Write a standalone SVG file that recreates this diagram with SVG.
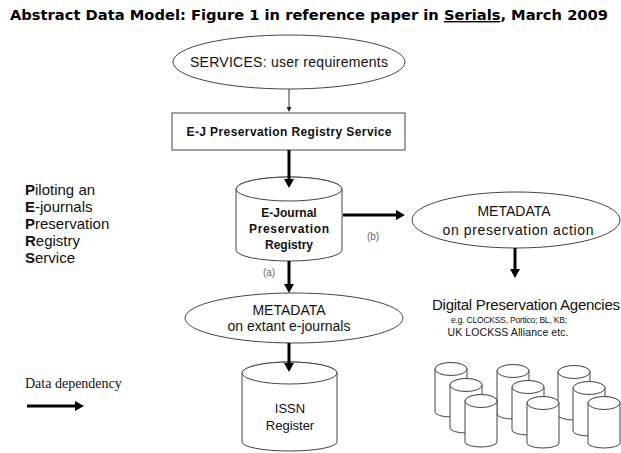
<svg xmlns="http://www.w3.org/2000/svg" width="621" height="453" viewBox="0 0 621 453">
<defs>
<style>
.sans{font-family:"Liberation Sans",Arial,sans-serif;fill:#111}
.b{font-weight:bold}
.shape{fill:#fff;stroke:#444;stroke-width:1}
.thick{stroke:#000;stroke-width:3;fill:none}
.thin{stroke:#333;stroke-width:1;fill:none}
.lbl{font-family:"Liberation Sans",Arial,sans-serif;font-size:10px;fill:#666}
</style>
<marker id="ah" viewBox="0 -5 9 10" refX="0" refY="0" markerWidth="9" markerHeight="10" markerUnits="userSpaceOnUse" orient="auto">
<path d="M0,-5 L9,0 L0,5 Z" fill="#000"/>
</marker>
<marker id="ahs" viewBox="0 -2.5 5 5" refX="0" refY="0" markerWidth="5" markerHeight="5" markerUnits="userSpaceOnUse" orient="auto">
<path d="M0,-2.5 L5,0 L0,2.5 Z" fill="#222"/>
</marker>
</defs>
<rect width="621" height="453" fill="#fff"/>

<g id="title">
<text x="10" y="20" font-family="'DejaVu Sans',Verdana,sans-serif" font-weight="bold" font-size="14" textLength="598" lengthAdjust="spacingAndGlyphs" fill="#000">Abstract Data Model: Figure 1 in reference paper in <tspan text-decoration="underline">Serials</tspan>, March 2009</text>
</g>

<g id="side-title" class="sans" font-size="15">
<text x="25" y="195"><tspan class="b">P</tspan>iloting an</text>
<text x="25" y="212"><tspan class="b">E</tspan>-journals</text>
<text x="25" y="229"><tspan class="b">P</tspan>reservation</text>
<text x="25" y="246"><tspan class="b">R</tspan>egistry</text>
<text x="25" y="263"><tspan class="b">S</tspan>ervice</text>
</g>

<g id="services">
<ellipse class="shape" cx="289" cy="62" rx="116" ry="27"/>
<text class="sans" x="289" y="67" font-size="14" text-anchor="middle" textLength="198">SERVICES: user requirements</text>
</g>

<g id="registry-service">
<rect class="shape" x="172" y="113" width="233" height="37"/>
<text class="sans b" x="289" y="136" font-size="12" text-anchor="middle" textLength="205">E-J Preservation Registry Service</text>
</g>

<g id="ejournal-registry">
<path class="shape" d="M236,189 V250 A53,11 0 0 0 342,250 V189 A53,12 0 0 0 236,189 Z"/>
<ellipse class="shape" cx="289" cy="189" rx="53" ry="12"/>
<g class="sans b" font-size="12" text-anchor="middle">
<text x="289" y="217">E-Journal</text>
<text x="289" y="233" textLength="80">Preservation</text>
<text x="289" y="249">Registry</text>
</g>
</g>

<g id="metadata-extant">
<ellipse class="shape" cx="294" cy="318" rx="109" ry="25"/>
<text class="sans" x="289" y="315" font-size="14" text-anchor="middle">METADATA</text>
<text class="sans" x="289" y="331" font-size="14" text-anchor="middle">on extant e-journals</text>
</g>

<g id="issn-register">
<path class="shape" d="M242,373 V442 A47.5,9 0 0 0 337,442 V373 A47.5,11 0 0 0 242,373 Z"/>
<ellipse class="shape" cx="289.5" cy="373" rx="47.5" ry="11"/>
<text class="sans" x="290" y="413" font-size="13" text-anchor="middle">ISSN</text>
<text class="sans" x="290" y="430" font-size="13" text-anchor="middle">Register</text>
</g>

<g id="metadata-preservation">
<ellipse class="shape" cx="516" cy="220" rx="104" ry="28"/>
<text class="sans" x="514" y="216" font-size="14" text-anchor="middle">METADATA</text>
<text class="sans" x="518" y="235" font-size="14" text-anchor="middle" textLength="151">on preservation action</text>
</g>

<g id="agencies">
<text class="sans" x="526" y="310" font-size="15" text-anchor="middle" textLength="188">Digital Preservation Agencies</text>
<text class="sans" x="509" y="323" font-size="8.5" text-anchor="middle" textLength="116">e.g. CLOCKSS, Portico; BL, KB;</text>
<text class="sans" x="508" y="336" font-size="10.5" text-anchor="middle" textLength="121">UK LOCKSS Alliance etc.</text>
<g id="agency-stores">
<path class="shape" d="M435,369 V412 A16,5 0 0 0 467,412 V369 A16,6 0 0 0 435,369 Z"/><ellipse class="shape" cx="451" cy="369" rx="16" ry="6.5"/>
<path class="shape" d="M497,371 V414 A16,5 0 0 0 529,414 V371 A16,6 0 0 0 497,371 Z"/><ellipse class="shape" cx="513" cy="371" rx="16" ry="6.5"/>
<path class="shape" d="M558,372 V415 A16,5 0 0 0 590,415 V372 A16,6 0 0 0 558,372 Z"/><ellipse class="shape" cx="574" cy="372" rx="16" ry="6.5"/>
<path class="shape" d="M450,385 V428 A16,5 0 0 0 482,428 V385 A16,6 0 0 0 450,385 Z"/><ellipse class="shape" cx="466" cy="385" rx="16" ry="6.5"/>
<path class="shape" d="M512,387 V430 A16,5 0 0 0 544,430 V387 A16,6 0 0 0 512,387 Z"/><ellipse class="shape" cx="528" cy="387" rx="16" ry="6.5"/>
<path class="shape" d="M573,388 V431 A16,5 0 0 0 605,431 V388 A16,6 0 0 0 573,388 Z"/><ellipse class="shape" cx="589" cy="388" rx="16" ry="6.5"/>
<path class="shape" d="M465,401 V442 A16,5 0 0 0 497,442 V401 A16,6 0 0 0 465,401 Z"/><ellipse class="shape" cx="481" cy="401" rx="16" ry="6.5"/>
<path class="shape" d="M527,403 V443 A16,5 0 0 0 559,443 V403 A16,6 0 0 0 527,403 Z"/><ellipse class="shape" cx="543" cy="403" rx="16" ry="6.5"/>
<path class="shape" d="M588,403 V443 A16,5 0 0 0 620,443 V403 A16,6 0 0 0 588,403 Z"/><ellipse class="shape" cx="604" cy="403" rx="16" ry="6.5"/>
</g>
</g>

<g id="legend">
<text x="25" y="388" font-family="'Liberation Serif','Times New Roman',serif" font-size="14" fill="#111">Data dependency</text>
<line class="thick" x1="27" y1="406" x2="75" y2="406" marker-end="url(#ah)"/>
</g>

<g id="connectors">
<line class="thin" x1="289" y1="89" x2="289" y2="107" marker-end="url(#ahs)"/>
<line class="thick" x1="289" y1="150" x2="289" y2="179" marker-end="url(#ah)"/>
<line class="thick" x1="289" y1="261" x2="289" y2="284" marker-end="url(#ah)"/>
<text class="lbl" x="269" y="276" text-anchor="middle">(a)</text>
<line class="thick" x1="343" y1="215" x2="396" y2="215" marker-end="url(#ah)"/>
<text class="lbl" x="373" y="240" text-anchor="middle">(b)</text>
<line class="thick" x1="515" y1="248" x2="515" y2="269" marker-end="url(#ah)"/>
<line class="thick" x1="289" y1="343" x2="289" y2="363" marker-end="url(#ah)"/>
</g>
</svg>
